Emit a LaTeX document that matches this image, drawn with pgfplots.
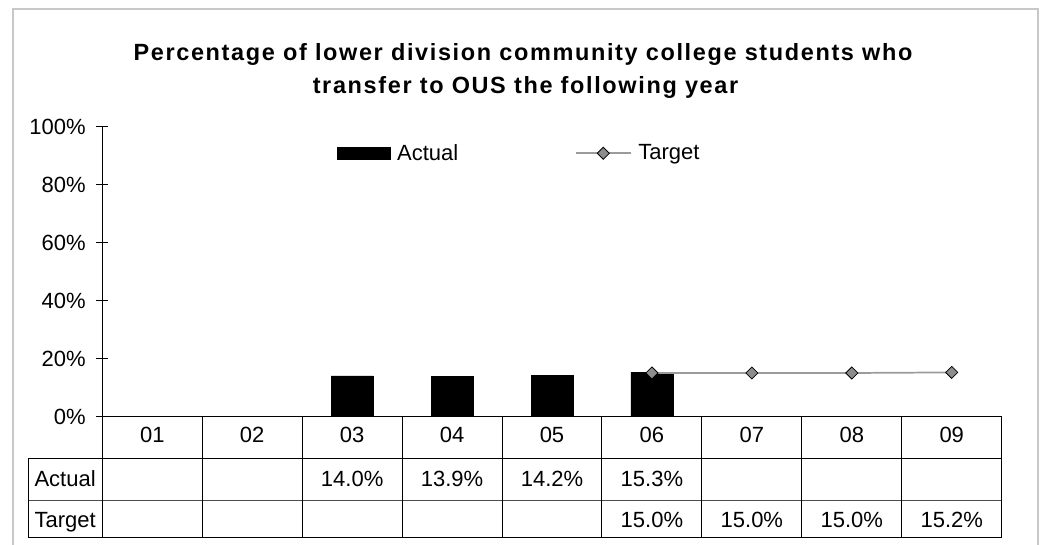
\documentclass[border=0pt]{standalone}
\usepackage{fontspec}
\setmainfont{Liberation Sans}
\newfontfamily\titlefont[LetterSpace=7]{Liberation Sans}
\usepackage{pgfplots}
\pgfplotsset{compat=1.18}
\definecolor{framegray}{RGB}{200,200,200}
\definecolor{tgtline}{RGB}{155,155,155}
\definecolor{tgtfill}{RGB}{140,140,140}
\begin{document}
\begin{tikzpicture}[x=0.75pt,y=0.75pt,font=\fontsize{16.5pt}{18pt}\selectfont]
\useasboundingbox (0,0) rectangle (1040,545);
\draw[framegray, line width=1.5pt] (13.3,-10) -- (13.3,536) -- (1037.5,536) -- (1037.5,-10);
\node[font=\titlefont\bfseries\fontsize{17.6pt}{22pt}\selectfont, anchor=base, inner sep=0pt] at (523,545-60.7) {Percentage of lower division community college students who};
\node[font=\titlefont\bfseries\fontsize{17.6pt}{22pt}\selectfont, anchor=base, inner sep=0pt] at (525.5,545-93.3) {transfer to OUS the following year};
\begin{axis}[
  at={(76.725pt,96.375pt)}, anchor=south west,
  scale only axis, width=674.55pt, height=217.5pt,
  xmin=-0.5, xmax=8.5, ymin=0, ymax=100,
  axis lines=left, axis line style={-, line width=0.75pt, black},
  xtick=\empty,
  ytick={0,20,...,100},
  yticklabel={\pgfmathprintnumber{\tick}\%},
  yticklabel style={xshift=-4.5pt},
  /pgf/number format/assume math mode=true,
  tick align=center, major tick length=9pt,
  tick style={black, line width=0.75pt},
  clip=false,
  legend columns=2,
  legend style={at={(0.2606,0.9076)}, anchor=west, draw=none, fill=none, inner sep=0pt,
    /tikz/every odd column/.append style={column sep=3pt},
    /tikz/every even column/.append style={column sep=85.5pt}},
]
\addplot[ybar, bar width=0.42, fill=black, draw=black,
  legend image code/.code={\fill[black] (0pt,-4.5pt) rectangle (39.75pt,4.5pt);}]
  coordinates {(2,14.0) (3,13.9) (4,14.2) (5,15.3)};
\addlegendentry{Actual}
\addplot[tgtline, line width=1.3pt, mark=square*, mark size=3.2pt,
  mark options={rotate=45, fill=tgtfill, draw=black, line width=0.6pt},
  legend image code/.code={\draw[tgtline, line width=1.3pt, mark=square*, mark size=3.2pt,
  mark options={rotate=45, fill=tgtfill, draw=black, line width=0.6pt}, mark repeat=2,mark phase=2] plot coordinates {(0pt,0pt) (20.6pt,0pt) (41.25pt,0pt)};}]
  coordinates {(5,15.0) (6,15.0) (7,15.0) (8,15.2)};
\addlegendentry{Target}
% data table grid
\draw[black, line width=0.75pt] (axis cs:-1.2405,-14.41) -- (axis cs:8.5,-14.41);
\draw[black!70, line width=0.75pt] (axis cs:-1.2405,-29.03) -- (axis cs:8.5,-29.03);
\draw[black, line width=0.75pt] (axis cs:-1.2405,-41.65) -- (axis cs:8.5,-41.65);
\draw[black, line width=0.75pt] (axis cs:-1.2405,-14.41) -- (axis cs:-1.2405,-41.65);
\pgfplotsinvokeforeach{-0.5,0.5,1.5,2.5,3.5,4.5,5.5,6.5,7.5,8.5}{
  \draw[black, line width=0.75pt] (axis cs:#1,0) -- (axis cs:#1,-41.65);
}
\node[anchor=base] at (axis cs:0,-8.83) {01};
\node[anchor=base] at (axis cs:1,-8.83) {02};
\node[anchor=base] at (axis cs:2,-8.83) {03};
\node[anchor=base] at (axis cs:3,-8.83) {04};
\node[anchor=base] at (axis cs:4,-8.83) {05};
\node[anchor=base] at (axis cs:5,-8.83) {06};
\node[anchor=base] at (axis cs:6,-8.83) {07};
\node[anchor=base] at (axis cs:7,-8.83) {08};
\node[anchor=base] at (axis cs:8,-8.83) {09};
\node[anchor=base west, inner sep=0pt] at (axis cs:-1.1805,-24.17) {Actual};
\node[anchor=base west, inner sep=0pt] at (axis cs:-1.1805,-38.24) {Target};
\node[anchor=base] at (axis cs:2,-24.17) {14.0\%};
\node[anchor=base] at (axis cs:3,-24.17) {13.9\%};
\node[anchor=base] at (axis cs:4,-24.17) {14.2\%};
\node[anchor=base] at (axis cs:5,-24.17) {15.3\%};
\node[anchor=base] at (axis cs:5,-38.24) {15.0\%};
\node[anchor=base] at (axis cs:6,-38.24) {15.0\%};
\node[anchor=base] at (axis cs:7,-38.24) {15.0\%};
\node[anchor=base] at (axis cs:8,-38.24) {15.2\%};
\end{axis}
\end{tikzpicture}
\end{document}
